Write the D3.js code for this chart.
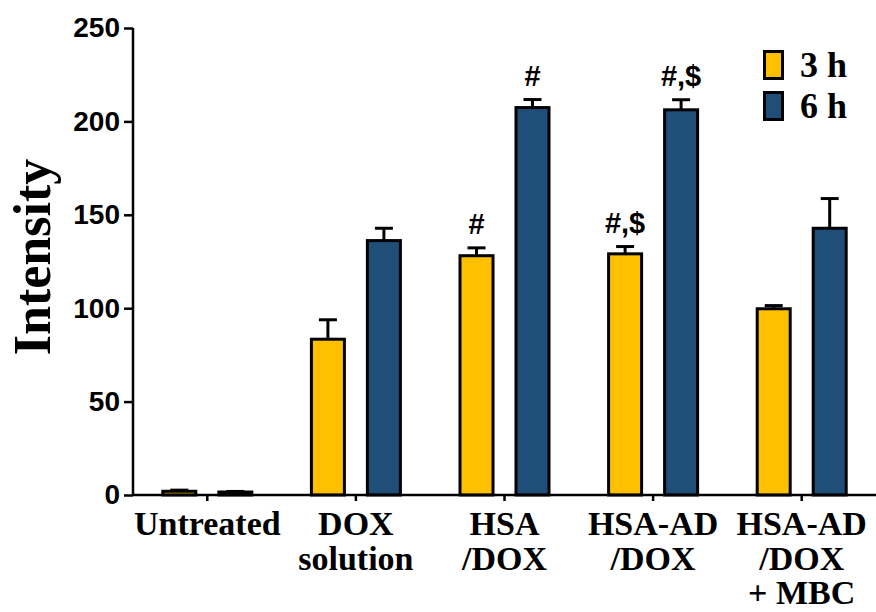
<!DOCTYPE html>
<html>
<head>
<meta charset="utf-8">
<script src="https://cdn.jsdelivr.net/npm/d3@7"></script>
<style>
  html, body { margin: 0; padding: 0; background: #fff; }
  svg { display: block; }
</style>
</head>
<body>
<svg id="chart" width="876" height="612"></svg>
<script>
// Groups shown along the x axis (each may wrap onto several lines)
const categories = ["Untreated", "DOX solution", "HSA/DOX", "HSA-AD/DOX", "HSA-AD/DOX + MBC"];
const categoryLines = [["Untreated"], ["DOX", "solution"], ["HSA", "/DOX"], ["HSA-AD", "/DOX"], ["HSA-AD", "/DOX", "+ MBC"]];
const series = ["3 h", "6 h"];
const colors = ["#FFC000", "#1F4E79"];

// Mean intensity and upper error (SD) per group
const values3h = [2.0, 83.4, 128.1, 129.1, 99.7];
const errors3h = [0.6, 10.4, 4.2, 3.9, 1.7];
const values6h = [1.6, 136.2, 207.4, 206.2, 142.8];
const errors6h = [0.3, 6.6, 4.3, 5.4, 15.9];

// Significance marks above bars
const marks3h = ["", "", "#", "#,$", ""];
const marks6h = ["", "", "#", "#,$", ""];

const yTicks = [0, 50, 100, 150, 200, 250];

const svg = d3.select("#chart");

const x0 = d3.scaleBand().domain(categories).range([133, 876]).padding(0);
const x1 = d3.scaleBand().domain(series).range([-46, 46]).paddingInner(0.357).paddingOuter(0);
const y = d3.scaleLinear().domain([0, 250]).range([495, 28]);

const rows = categories.map((c, i) => series.map((s, j) => ({
  cat: c,
  s: s,
  color: colors[j],
  v: j === 0 ? values3h[i] : values6h[i],
  e: j === 0 ? errors3h[i] : errors6h[i],
  mark: j === 0 ? marks3h[i] : marks6h[i]
}))).flat();

const cx = d => x0(d.cat) + x0.bandwidth() / 2 + x1(d.s);

// Bars
const sw = 3;
svg.append("g").selectAll("rect").data(rows).join("rect")
  .attr("x", d => cx(d) + sw / 2)
  .attr("width", x1.bandwidth() - sw)
  .attr("y", d => y(d.v))
  .attr("height", d => y(0) - y(d.v))
  .attr("fill", d => d.color)
  .attr("stroke", "#000")
  .attr("stroke-width", sw);

// Upper error bars
const eg = svg.append("g").attr("stroke", "#000").attr("stroke-width", 3);
rows.forEach(d => {
  const mx = cx(d) + x1.bandwidth() / 2;
  eg.append("line").attr("x1", mx).attr("x2", mx).attr("y1", y(d.v)).attr("y2", y(d.v + d.e));
  eg.append("line").attr("x1", mx - 9).attr("x2", mx + 9).attr("y1", y(d.v + d.e)).attr("y2", y(d.v + d.e));
});

// Significance labels
svg.append("g").selectAll("text").data(rows.filter(d => d.mark)).join("text")
  .attr("x", d => cx(d) + x1.bandwidth() / 2)
  .attr("y", d => y(d.v + d.e) - 14)
  .attr("text-anchor", "middle")
  .attr("font-family", "'Liberation Sans', Arial, sans-serif")
  .attr("font-weight", "bold")
  .attr("font-size", 29)
  .text(d => d.mark);

// Y axis
const yAxis = svg.append("g")
  .attr("transform", "translate(133,0)")
  .call(d3.axisLeft(y).tickValues(yTicks).tickSize(9).tickPadding(4).tickFormat(d3.format("d")));
yAxis.select(".domain").attr("stroke-width", 2.5).attr("d", `M0,${y(250)}V${y(0)}`);
yAxis.selectAll(".tick line").attr("stroke-width", 2.5);
yAxis.selectAll(".tick text")
  .attr("font-family", "'Liberation Sans', Arial, sans-serif")
  .attr("font-weight", "bold")
  .attr("font-size", 28)
  .attr("fill", "#000");

// X axis
const xAxis = svg.append("g")
  .attr("transform", `translate(0,${y(0)})`)
  .call(d3.axisBottom(x0).tickSize(6).tickFormat(""));
xAxis.select(".domain").attr("stroke-width", 2.5).attr("d", `M133,0H876`);
xAxis.selectAll(".tick line").attr("stroke-width", 2.5);

// Category labels (multi-line)
const lab = svg.append("g")
  .attr("font-family", "'Liberation Serif', 'Times New Roman', serif")
  .attr("font-weight", "bold")
  .attr("font-size", 34)
  .attr("text-anchor", "middle");
categories.forEach((c, i) => {
  const t = lab.append("text").attr("x", x0(c) + x0.bandwidth() / 2).attr("y", 535);
  categoryLines[i].forEach((ln, k) => {
    t.append("tspan").attr("x", x0(c) + x0.bandwidth() / 2).attr("y", 535 + k * 34.5).text(ln);
  });
});

// Y axis title
svg.append("text")
  .attr("transform", "translate(50,257) rotate(-90)")
  .attr("text-anchor", "middle")
  .attr("font-family", "'Liberation Serif', 'Times New Roman', serif")
  .attr("font-weight", "bold")
  .attr("font-size", 52)
  .text("Intensity");

// Legend
const lg = svg.append("g");
series.forEach((s, j) => {
  lg.append("rect")
    .attr("x", 764.5).attr("y", 51.5 + j * 41)
    .attr("width", 18).attr("height", 27)
    .attr("fill", colors[j]).attr("stroke", "#000").attr("stroke-width", 3);
  lg.append("text")
    .attr("x", 800).attr("y", 77 + j * 41)
    .attr("font-family", "'Liberation Serif', 'Times New Roman', serif")
    .attr("font-weight", "bold")
    .attr("font-size", 36)
    .text(s);
});
</script>
</body>
</html>
